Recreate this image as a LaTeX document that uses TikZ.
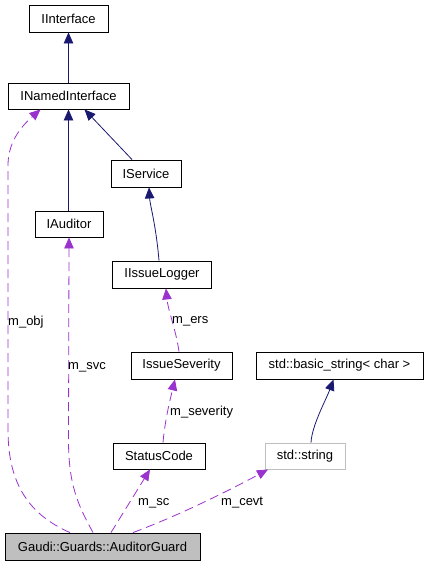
\documentclass[tikz,border=0pt]{standalone}
\usepackage{fontspec}
\setmainfont{Liberation Sans}
\usetikzlibrary{arrows.meta}
\definecolor{inhblue}{HTML}{191970}
\definecolor{usepurple}{HTML}{9A32CD}
\definecolor{boxgray}{HTML}{BFBFBF}
\tikzset{
  cls/.style={draw=black, line width=0.9pt, fill=white, inner sep=0pt, font=\fontsize{13}{15}\selectfont},
  inh/.style={draw=inhblue, line width=0.8pt, -{Triangle[length=11pt,width=9.5pt]}, color=inhblue},
  use/.style={draw=usepurple, line width=0.8pt, dash pattern=on 9pt off 5pt, -{Triangle[length=11pt,width=9.5pt]}, color=usepurple},
  lbl/.style={font=\fontsize{13}{15}\selectfont, inner sep=0pt, text=black}
}
\begin{document}
\begin{tikzpicture}[x=1pt,y=-1pt]
\useasboundingbox (0,0) rectangle (426,565);
\node[cls, minimum width=79pt, minimum height=27pt] (iinterface) at (68.5,18.5) {IInterface};
\node[cls, minimum width=121pt, minimum height=26pt] (inamed) at (68.5,96) {INamedInterface};
\node[cls, minimum width=70pt, minimum height=27pt] (iservice) at (146,173.5) {IService};
\node[cls, minimum width=68pt, minimum height=26pt] (iauditor) at (69,224) {IAuditor};
\node[cls, minimum width=99pt, minimum height=27pt] (ilogger) at (162,274.5) {IIssueLogger};
\node[cls, minimum width=101pt, minimum height=27pt] (severity) at (181.5,365.5) {IssueSeverity};
\node[cls, minimum width=167pt, minimum height=27pt] (basicstr) at (339.5,365.5) {std::basic\_string< char >};
\node[cls, minimum width=92pt, minimum height=26pt] (status) at (159,456) {StatusCode};
\node[cls, draw=boxgray, minimum width=80pt, minimum height=26pt] (stdstr) at (305,456) {std::string};
\node[cls, fill=boxgray, minimum width=195pt, minimum height=27pt] (guard) at (102.5,546.5) {Gaudi::Guards::AuditorGuard};

% inheritance
\draw[inh] (inamed.north) -- (iinterface.south);
\draw[inh] ([xshift=-0.5pt]iauditor.north) -- (inamed.south);
\draw[inh] ([xshift=-14pt]iservice.north) -- ([xshift=16pt]inamed.south);
\draw[inh] ([xshift=-3pt]ilogger.north) .. controls (156,225) and (150,205) .. ([xshift=3pt]iservice.south);
\draw[inh] ([xshift=6pt]stdstr.north) .. controls (312,425) and (326,400) .. ([xshift=-6pt]basicstr.south);

% usage
\draw[use] ([xshift=-2.5pt]severity.north) .. controls (176,330) and (168,310) .. ([xshift=4pt]ilogger.south);
\node[lbl, anchor=west] (lers) at (172,321) {m\_ers};
\draw[use] ([xshift=4pt]status.north) .. controls (165,420) and (170,400) .. ([xshift=-6.5pt]severity.south);
\node[lbl, anchor=west] (lsev) at (170,412) {m\_severity};
\draw[use] ([xshift=8.5pt]guard.north) -- ([xshift=-9pt]status.south);
\node[lbl, anchor=west] (lsc) at (138,503) {m\_sc};
\draw[use] ([xshift=30.5pt]guard.north) .. controls (180,515) and (230,490) .. ([xshift=-37pt]stdstr.south);
\node[lbl, anchor=west] (lcevt) at (221,503) {m\_cevt};
\draw[use] ([xshift=-9.5pt]guard.north) .. controls (78,505) and (68.5,485) .. (68.5,440) -- (iauditor.south);
\node[lbl, anchor=west] (lsvc) at (68,367) {m\_svc};
\draw[use] ([xshift=-32.5pt]guard.north) .. controls (30,515) and (8,485) .. (8,430) -- (8,165) .. controls (8,140) and (24,124) .. ([xshift=-28pt]inamed.south);
\node[lbl, anchor=west] (lobj) at (8,322) {m\_obj};
\end{tikzpicture}
\end{document}
